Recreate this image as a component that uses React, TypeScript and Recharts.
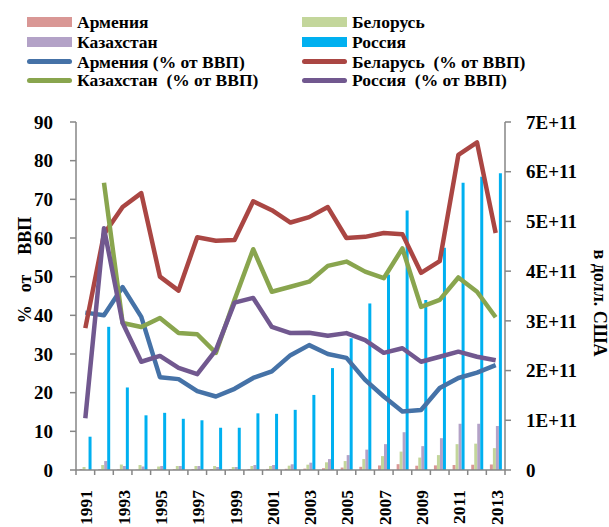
import { Bar, ComposedChart, Label, Line, XAxis, YAxis } from 'recharts'

const years = [
  '1991', '1992', '1993', '1994', '1995', '1996', '1997', '1998', '1999', '2000', '2001', '2002',
  '2003', '2004', '2005', '2006', '2007', '2008', '2009', '2010', '2011', '2012', '2013',
]

// GDP, USD (right axis)
const armeniaUsd = [
  0.02e11, 0.013e11, 0.012e11, 0.007e11, 0.013e11, 0.016e11, 0.016e11, 0.019e11, 0.018e11, 0.019e11,
  0.021e11, 0.024e11, 0.028e11, 0.036e11, 0.049e11, 0.064e11, 0.092e11, 0.117e11, 0.086e11, 0.093e11,
  0.101e11, 0.106e11, 0.111e11,
]
const belarusUsd = [
  0.06e11, 0.1e11, 0.11e11, 0.1e11, 0.07e11, 0.08e11, 0.08e11, 0.08e11, 0.06e11, 0.08e11, 0.08e11,
  0.087e11, 0.107e11, 0.155e11, 0.18e11, 0.22e11, 0.28e11, 0.37e11, 0.25e11, 0.3e11, 0.52e11, 0.53e11,
  0.44e11,
]
const kazakhstanUsd = [
  null, 0.18e11, 0.08e11, 0.07e11, 0.08e11, 0.08e11, 0.08e11, 0.06e11, 0.06e11, 0.1e11, 0.1e11,
  0.115e11, 0.147e11, 0.22e11, 0.3e11, 0.41e11, 0.52e11, 0.76e11, 0.48e11, 0.64e11, 0.93e11, 0.93e11,
  0.885e11,
]
const russiaUsd = [
  0.67e11, 2.88e11, 1.66e11, 1.1e11, 1.15e11, 1.03e11, 1.0e11, 0.85e11, 0.85e11, 1.14e11, 1.13e11,
  1.21e11, 1.51e11, 2.05e11, 2.65e11, 3.35e11, 3.93e11, 5.22e11, 3.42e11, 4.47e11, 5.78e11, 5.9e11,
  5.97e11,
]

// % of GDP (left axis)
const armeniaPct = [
  40.7, 40, 47.3, 39.6, 24, 23.5, 20.4, 19, 21, 23.8, 25.5, 29.7, 32.3, 30, 29, 23.3, 19, 15.1, 15.5,
  21.2, 23.8, 25.2, 27.1,
]
const belarusPct = [
  36.7, 61, 68, 71.6, 50, 46.4, 60.2, 59.3, 59.5, 69.5, 67.2, 64, 65.4, 68, 60, 60.3, 61.3, 61, 51, 54,
  81.5, 84.7, 61.3,
]
const kazakhstanPct = [
  null, 74.3, 38, 37, 39.3, 35.4, 35.1, 30.3, 44, 57.1, 46.1, 47.4, 48.7, 52.8, 53.9, 51.3, 49.6, 57.3,
  42.2, 44, 49.8, 46.1, 39.5,
]
const russiaPct = [
  13.4, 62.5, 38, 28, 29.5, 26.4, 24.8, 31, 43.3, 44.5, 37, 35.4, 35.5, 34.7, 35.4, 33.6, 30.3, 31.5,
  28, 29.3, 30.6, 29.3, 28.4,
]

const pctTicks = [0, 10, 20, 30, 40, 50, 60, 70, 80, 90]
const usdTicks = [0, 1e11, 2e11, 3e11, 4e11, 5e11, 6e11, 7e11]

const data = years.map((year, i) => ({
  year,
  armeniaUsd: armeniaUsd[i],
  belarusUsd: belarusUsd[i],
  kazakhstanUsd: kazakhstanUsd[i],
  russiaUsd: russiaUsd[i],
  armeniaPct: armeniaPct[i],
  belarusPct: belarusPct[i],
  kazakhstanPct: kazakhstanPct[i],
  russiaPct: russiaPct[i],
}))

const FONT = '"Liberation Serif", "Times New Roman", serif'
const AXIS = '#868686'
const W = 609
const H = 527
const LEFT = 76
const RIGHT_W = 104
const TOP = 122
const X_H = 57
const BAND = (W - LEFT - RIGHT_W) / years.length

const legendItems = [
  { label: 'Армения', color: '#D99795', kind: 'bar' },
  { label: 'Белорусь', color: '#C3D69B', kind: 'bar' },
  { label: 'Казахстан', color: '#B3A2C7', kind: 'bar' },
  { label: 'Россия', color: '#00B0F0', kind: 'bar' },
  { label: 'Армения (% от ВВП)', color: '#4572A7', kind: 'line' },
  { label: 'Беларусь  (% от ВВП)', color: '#AA4643', kind: 'line' },
  { label: 'Казахстан  (% от ВВП)', color: '#89A54E', kind: 'line' },
  { label: 'Россия  (% от ВВП)', color: '#71588F', kind: 'line' },
]

function YearTick(props: any) {
  const { x, y, payload, index } = props
  const half = BAND / 2
  return (
    <g>
      <line x1={x - half} x2={x - half} y1={y} y2={y + 5} stroke={AXIS} strokeWidth={1.5} />
      {index === years.length - 1 && (
        <line x1={x + half} x2={x + half} y1={y} y2={y + 5} stroke={AXIS} strokeWidth={1.5} />
      )}
      {index % 2 === 0 && (
        <text
          x={x + 1}
          y={y + 20}
          transform={`rotate(-90 ${x + 1} ${y + 20})`}
          textAnchor="end"
          dominantBaseline="central"
          fontFamily={FONT}
          fontWeight="bold"
          fontSize={17.5}
          fill="#000"
        >
          {payload.value}
        </text>
      )}
    </g>
  )
}

function usdFormat(v: number) {
  if (v === 0) return '0'
  return `${Math.round(v / 1e11)}E+11`
}

function Legend() {
  return (
    <div style={{ position: 'absolute', left: 0, top: 0, width: W, height: 100 }}>
      {legendItems.map((item, i) => {
        const col = i % 2
        const row = Math.floor(i / 2)
        const cy = [21.5, 41.5, 61.5, 80][row]
        const sx = col === 0 ? 27 : 302
        return (
          <div key={item.label}>
            <div
              style={{
                position: 'absolute',
                left: sx,
                top: item.kind === 'bar' ? cy - 5 : cy - 2.5,
                width: 45,
                height: item.kind === 'bar' ? 10 : 5,
                borderRadius: item.kind === 'bar' ? 0 : 3,
                background: item.color,
              }}
            />
            <div
              style={{
                position: 'absolute',
                left: sx + 50,
                top: cy - 11,
                height: 22,
                lineHeight: '22px',
                fontFamily: FONT,
                fontWeight: 'bold',
                fontSize: 17.5,
                color: '#000',
                whiteSpace: 'pre',
              }}
            >
              {item.label}
            </div>
          </div>
        )
      })}
    </div>
  )
}

export default function App() {
  const tickStyle = { fill: '#000', fontSize: 19, fontWeight: 'bold', fontFamily: FONT }
  return (
    <div style={{ position: 'absolute', left: 0, top: 0, width: W, height: H, background: '#fff' }}>
      <ComposedChart
        width={W}
        height={H}
        data={data}
        margin={{ top: TOP, right: 0, bottom: 0, left: 0 }}
        barGap={0}
        barCategoryGap="19%"
      >
        <XAxis
          dataKey="year"
          height={X_H}
          interval={0}
          tickSize={0}
          tickMargin={0}
          tickLine={false}
          axisLine={{ stroke: AXIS, strokeWidth: 1.5 }}
          tick={<YearTick />}
        />
        <YAxis
          yAxisId="pct"
          width={LEFT}
          domain={[0, 90]}
          ticks={pctTicks}
          interval={0}
          tickSize={6}
          tickMargin={17}
          axisLine={{ stroke: AXIS, strokeWidth: 1.5 }}
          tickLine={{ stroke: AXIS, strokeWidth: 1.5 }}
          tick={tickStyle}
        >
          <Label
            content={() => (
              <text
                x={25}
                y={270}
                transform="rotate(-90 25 270)"
                textAnchor="middle"
                dominantBaseline="central"
                fontFamily={FONT}
                fontWeight="bold"
                fontSize={18}
                fill="#000"
              >
                <tspan>%</tspan>
                <tspan dx={13}>от</tspan>
                <tspan dx={20}>ВВП</tspan>
              </text>
            )}
          />
        </YAxis>
        <YAxis
          yAxisId="usd"
          orientation="right"
          width={RIGHT_W}
          domain={[0, 7e11]}
          ticks={usdTicks}
          interval={0}
          tickSize={6}
          tickMargin={15}
          tickFormatter={usdFormat}
          axisLine={{ stroke: AXIS, strokeWidth: 1.5 }}
          tickLine={{ stroke: AXIS, strokeWidth: 1.5 }}
          tick={{ ...tickStyle, textAnchor: 'start' }}
        >
          <Label
            content={() => (
              <text
                x={600}
                y={303}
                transform="rotate(90 600 303)"
                textAnchor="middle"
                dominantBaseline="central"
                fontFamily={FONT}
                fontWeight="bold"
                fontSize={18}
                fill="#000"
              >
                в долл. США
              </text>
            )}
          />
        </YAxis>

        <Bar yAxisId="usd" dataKey="armeniaUsd" fill="#D99795" isAnimationActive={false} />
        <Bar yAxisId="usd" dataKey="belarusUsd" fill="#C3D69B" isAnimationActive={false} />
        <Bar yAxisId="usd" dataKey="kazakhstanUsd" fill="#B3A2C7" isAnimationActive={false} />
        <Bar yAxisId="usd" dataKey="russiaUsd" fill="#00B0F0" isAnimationActive={false} />

        <Line yAxisId="pct" dataKey="armeniaPct" stroke="#4572A7" strokeWidth={4.5} dot={false} strokeLinejoin="round" isAnimationActive={false} />
        <Line yAxisId="pct" dataKey="belarusPct" stroke="#AA4643" strokeWidth={4.5} dot={false} strokeLinejoin="round" isAnimationActive={false} />
        <Line yAxisId="pct" dataKey="kazakhstanPct" stroke="#89A54E" strokeWidth={4.5} dot={false} strokeLinejoin="round" isAnimationActive={false} />
        <Line yAxisId="pct" dataKey="russiaPct" stroke="#71588F" strokeWidth={4.5} dot={false} strokeLinejoin="round" isAnimationActive={false} />
      </ComposedChart>
      <Legend />
    </div>
  )
}
